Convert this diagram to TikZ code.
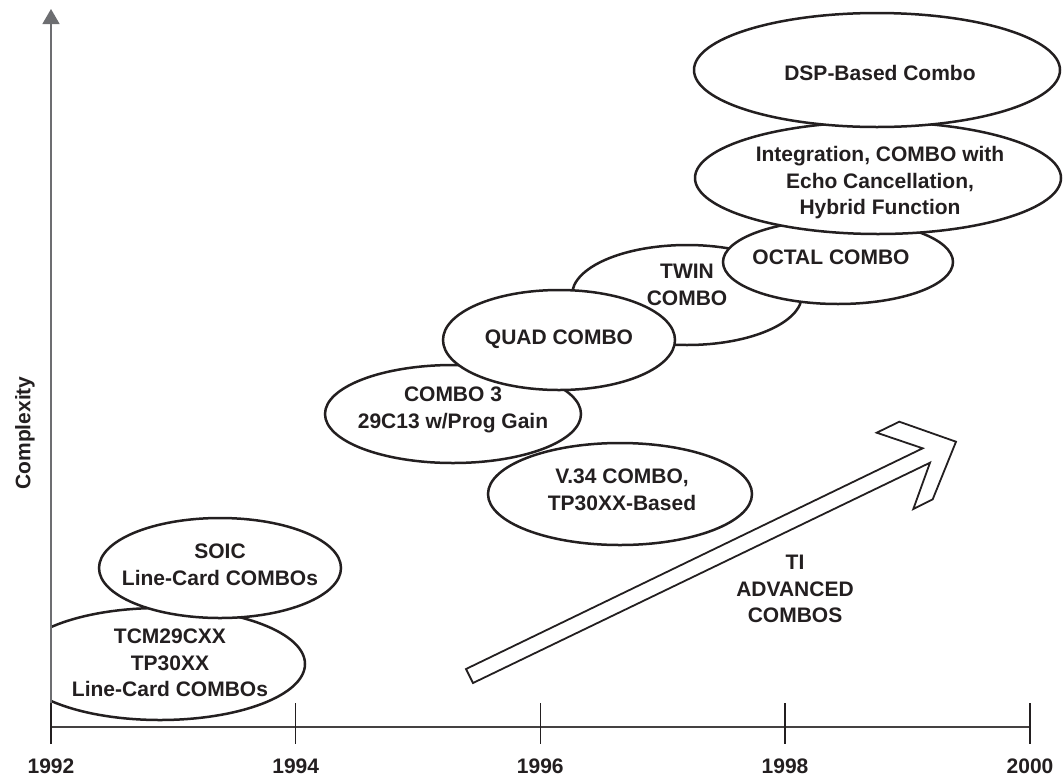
\documentclass[tikz,border=0pt]{standalone}
\usepackage{fontspec}
\setmainfont{Liberation Sans}
\usetikzlibrary{shapes.geometric,arrows.meta}
\definecolor{ink}{HTML}{231F20}
\definecolor{axisgray}{HTML}{6D6E71}
\begin{document}
\begin{tikzpicture}[x=1pt,y=-1pt,
  ell/.style={ellipse, draw=ink, line width=2.5pt, fill=white, inner sep=0pt},
  lbl/.style={font=\fontsize{21}{26.5}\selectfont\bfseries, text=ink, align=center, inner sep=0pt},
  yearlbl/.style={font=\fontsize{21}{26}\selectfont\bfseries, text=ink, inner sep=0pt},
  tickline/.style={draw=ink, line width=1.2pt},
  haxis/.style={draw=ink!85, line width=1.2pt},
  vaxis/.style={draw=axisgray, line width=1.4pt, -{Triangle[length=15pt,width=17pt]}},
  bigarrow/.style={draw=ink, line width=1.8pt, fill=white, line join=miter}
]
\useasboundingbox (0,0) rectangle (1063,777);

% ellipses (drawn in stacking order)
\begin{scope}
  \clip (51,0) rectangle (1063,777);
  \node[ell, minimum width=290pt, minimum height=112pt] (tcm) at (160,664) {};
\end{scope}
\node[lbl] (tcmtext) at (170,663) {TCM29CXX\\TP30XX\\Line-Card COMBOs};

\node[ell, minimum width=242pt, minimum height=100pt] (soic) at (220,568) {};
\node[lbl] (soictext) at (220,565) {SOIC\\Line-Card COMBOs};

\node[ell, minimum width=230pt, minimum height=100pt] (twin) at (687,295) {};
\node[lbl] (twintext) at (687,285) {TWIN\\COMBO};

\node[ell, minimum width=256pt, minimum height=98pt] (combo3) at (453,414) {};
\node[lbl] (combo3text) at (453,410) {COMBO 3\\29C13 w/Prog Gain};

\node[ell, minimum width=264pt, minimum height=102pt] (v34) at (620,494) {};
\node[lbl] (v34text) at (622,490) {V.34 COMBO,\\TP30XX-Based};

\node[ell, minimum width=232pt, minimum height=100pt] (quad) at (559,340) {};
\node[lbl] (quadtext) at (559,339) {QUAD COMBO};

\node[ell, minimum width=230pt, minimum height=84pt] (octal) at (838,262) {};
\node[lbl] (octaltext) at (831,257) {OCTAL COMBO};

\node[ell, minimum width=366pt, minimum height=112pt] (integ) at (878,178) {};
\node[lbl] (integtext) at (880,183) {Integration, COMBO with\\Echo Cancellation,\\Hybrid Function};

\node[ell, minimum width=366pt, minimum height=114pt] (dsp) at (877,70) {};
\node[lbl] (dsptext) at (880,73) {DSP-Based Combo};

% big hollow arrow
\coordinate (tailU) at (466,669);
\coordinate (tailL) at (473,683);
\coordinate (notchU) at (922.7,448.3);
\coordinate (barbU1) at (876.7,432.7);
\coordinate (barbU2) at (899.3,421.7);
\coordinate (tip) at (956,441.7);
\coordinate (barbL2) at (932.7,499.3);
\coordinate (barbL1) at (913.3,509);
\coordinate (notchL) at (930,462.7);
\draw[bigarrow] (tailU) -- (notchU) -- (barbU1) -- (barbU2) -- (tip) -- (barbL2) -- (barbL1) -- (notchL) -- (tailL) -- cycle;
\node[lbl] (titext) at (795,589) {TI\\ADVANCED\\COMBOS};

% axes
\coordinate (origin) at (51,727);
\coordinate (vbottom) at (51,744);
\coordinate (vtop) at (51,9);
\coordinate (hend) at (1030,727);
\draw[haxis] (origin) -- (hend);
\draw[vaxis] (vbottom) -- (vtop);
\foreach \xx/\yr in {51/1992, 295.7/1994, 540.3/1996, 785/1998, 1030/2000}{
  \coordinate (tt\yr) at (\xx,703);
  \coordinate (tb\yr) at (\xx,744);
  \draw[tickline] (tt\yr) -- (tb\yr);
  \node[yearlbl] (y\yr) at (\xx,766) {\yr};
}
\node[lbl, rotate=90] (complexity) at (25,433) {Complexity};
\end{tikzpicture}
\end{document}
